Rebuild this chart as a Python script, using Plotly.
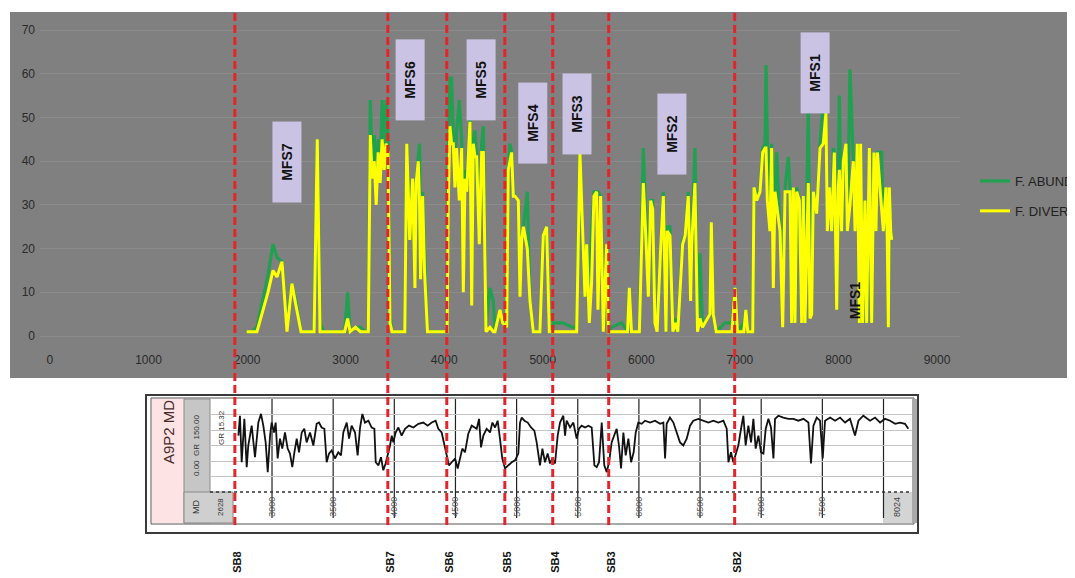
import plotly.graph_objects as go

# ---------------- data ----------------
depth = [1996, 2050, 2100, 2212, 2263, 2303, 2354, 2405, 2455, 2496, 2547, 2600, 2680, 2712, 2740, 2780,
         2900, 2990, 3020, 3045, 3100, 3150, 3200, 3230, 3250, 3270, 3290, 3310, 3330, 3350, 3370, 3390,
         3410, 3430, 3450, 3470, 3600, 3620, 3650, 3680, 3703, 3715, 3737, 3750, 3760, 3781, 3800, 3830,
         3900, 4000, 4030, 4041, 4058, 4075, 4092, 4109, 4126, 4153, 4177, 4194, 4211, 4228, 4261, 4279,
         4295, 4312, 4329, 4356, 4380, 4397, 4424, 4464, 4498, 4515, 4566, 4593, 4634, 4650, 4667, 4684,
         4701, 4718, 4752, 4769, 4786, 4803, 4843, 4870, 4904, 4971, 5005, 5039, 5066, 5100, 5110, 5200,
         5300, 5344, 5377, 5404, 5428, 5445, 5472, 5495, 5519, 5546, 5560, 5587, 5614, 5648, 5665, 5700,
         5800, 5860, 5878, 5900, 5980, 6020, 6047, 6071, 6095, 6115, 6138, 6160, 6196, 6223, 6250, 6263,
         6291, 6320, 6345, 6370, 6419, 6445, 6476, 6500, 6511, 6544, 6570, 6595, 6620, 6696, 6710, 6730,
         6760, 6850, 6920, 6950, 6975, 7040, 7060, 7080, 7130, 7143, 7170, 7204, 7231, 7255, 7265, 7278,
         7305, 7322, 7339, 7356, 7373, 7407, 7434, 7458, 7491, 7508, 7525, 7542, 7559, 7576, 7603, 7627,
         7644, 7660, 7694, 7711, 7728, 7745, 7779, 7813, 7846, 7873, 7887, 7907, 7931, 7948, 7958, 7982,
         7999, 8009, 8032, 8049, 8076, 8090, 8117, 8151, 8168, 8191, 8212, 8225, 8245, 8269, 8286, 8313,
         8337, 8360, 8381, 8394, 8438, 8455, 8482, 8495, 8506, 8516, 8530, 8540]
f_abundance = [1, 1, 2, 14, 21, 18, 17, 2, 12, 8, 1, 1, 1, 45, 3, 1,
               1, 1, 10, 1, 2, 2, 1, 1, 54, 40, 46, 32, 45, 38, 54, 42,
               54, 45, 5, 1, 1, 44, 23, 36, 12, 35, 41, 44, 14, 33, 20, 1,
               1, 1, 1, 40, 59, 59, 45, 40, 47, 54, 45, 20, 38, 35, 50, 10,
               45, 47, 42, 22, 44, 48, 2, 11, 8, 1, 6, 3, 2, 38, 44, 42,
               33, 32, 31, 10, 22, 25, 33, 8, 1, 1, 23, 25, 1, 1, 3, 3,
               2, 2, 42, 23, 9, 21, 3, 24, 33, 33, 33, 32, 1, 21, 1, 2,
               3, 1, 11, 1, 1, 43, 25, 10, 31, 31, 5, 2, 20, 33, 1, 25,
               25, 1, 4, 1, 22, 23, 33, 10, 21, 43, 1, 19, 2, 5, 26, 5,
               1, 3, 3, 11, 1, 3, 6, 1, 1, 34, 31, 34, 43, 44, 62, 44,
               30, 44, 30, 33, 42, 24, 10, 34, 41, 34, 3, 34, 3, 34, 31, 3,
               32, 3, 54, 10, 6, 33, 28, 44, 54, 51, 25, 34, 24, 43, 42, 6,
               34, 55, 24, 40, 44, 24, 61, 40, 24, 44, 3, 44, 3, 31, 3, 43,
               3, 42, 24, 42, 42, 24, 34, 22, 2, 34, 24, 22]
f_diversity = [1, 1, 1, 10, 15, 13.5, 17, 1, 12, 7, 1, 1, 1, 45, 1, 1,
               1, 1, 4, 1, 2, 1, 1, 1, 46, 36, 40, 30, 42, 35, 45, 38,
               44, 42, 3, 1, 1, 44, 22, 36, 11, 35, 40, 30, 13, 32, 15, 1,
               1, 1, 1, 30, 48, 44, 44, 34, 43, 31, 43, 10, 36, 33, 49, 7,
               44, 41, 41, 21, 42, 42, 1, 2, 1, 1, 6, 3, 2, 38, 40, 42,
               32, 32, 31, 9, 22, 25, 20, 8, 1, 1, 23, 25, 1, 1, 1, 1,
               1, 1, 42, 23, 9, 21, 3, 12, 32, 33, 6, 32, 1, 21, 1, 1,
               1, 1, 11, 1, 1, 35, 22, 9, 31, 29, 3, 1, 20, 32, 1, 24,
               23, 1, 3, 1, 21, 23, 32, 8, 21, 35, 1, 4, 2, 5, 26, 5,
               1, 1, 1, 11, 1, 1, 6, 1, 1, 34, 31, 33, 42, 43, 43, 31,
               24, 43, 11, 33, 30, 24, 2, 33, 33, 33, 3, 34, 3, 33, 31, 3,
               32, 3, 35, 4, 5, 33, 28, 43, 44, 51, 24, 34, 24, 35, 42, 6,
               34, 38, 24, 40, 44, 24, 30, 40, 24, 44, 3, 44, 3, 31, 3, 43,
               3, 42, 24, 42, 30, 24, 34, 22, 2, 34, 24, 22]

x_ticks = [0, 1000, 2000, 3000, 4000, 5000, 6000, 7000, 8000, 9000]
y_ticks = [0, 10, 20, 30, 40, 50, 60, 70]

sb_names = ["SB8", "SB7", "SB6", "SB5", "SB4", "SB3", "SB2"]
sb_depths = [1876, 3428, 4026, 4615, 5101, 5669, 6947]

mfs_names = ["MFS7", "MFS6", "MFS5", "MFS4", "MFS3", "MFS2", "MFS1"]
mfs_depths = [2405, 3653, 4373, 4900, 5347, 6311, 7762]
mfs_values = [39.8, 58.6, 58.6, 48.7, 50.8, 46.2, 60.2]
mfs1_low_depth = 8168
mfs1_low_value = 8.2

# GR well log (A9P2)
gr_depth = [2725, 2738, 2752, 2774, 2793, 2806, 2834, 2861, 2888, 2910, 2929, 2948, 2965, 2984, 2997, 3016,
            3030, 3046, 3065, 3084, 3106, 3128, 3147, 3166, 3183, 3202, 3221, 3243, 3264, 3283, 3311, 3338,
            3365, 3384, 3406, 3428, 3447, 3466, 3488, 3515, 3542, 3564, 3583, 3611, 3630, 3651, 3679, 3700,
            3720, 3739, 3760, 3788, 3815, 3837, 3848, 3870, 3891, 3910, 3929, 3946, 3965, 3979, 3992, 4011,
            4033, 4060, 4088, 4120, 4156, 4197, 4237, 4273, 4306, 4338, 4360, 4387, 4409, 4428, 4447, 4469,
            4497, 4518, 4537, 4556, 4578, 4605, 4633, 4654, 4674, 4693, 4709, 4728, 4755, 4783, 4802, 4824,
            4845, 4864, 4883, 4905, 4933, 4960, 4987, 5014, 5028, 5042, 5064, 5091, 5118, 5145, 5164, 5191,
            5211, 5232, 5254, 5273, 5292, 5314, 5336, 5355, 5382, 5396, 5409, 5437, 5464, 5491, 5510, 5532,
            5559, 5587, 5614, 5636, 5655, 5674, 5696, 5717, 5737, 5756, 5777, 5799, 5818, 5837, 5854, 5873,
            5892, 5914, 5936, 5957, 5974, 5995, 6023, 6050, 6091, 6132, 6173, 6200, 6214, 6227, 6254, 6282,
            6309, 6336, 6363, 6391, 6418, 6445, 6486, 6527, 6568, 6609, 6650, 6691, 6718, 6732, 6753, 6772,
            6791, 6813, 6835, 6854, 6873, 6895, 6917, 6936, 6955, 6977, 6999, 7018, 7037, 7059, 7080, 7100,
            7113, 7140, 7181, 7222, 7263, 7304, 7345, 7386, 7407, 7427, 7454, 7481, 7503, 7522, 7563, 7604,
            7645, 7686, 7726, 7767, 7795, 7835, 7890, 7931, 7972, 8013, 8054, 8095, 8135, 8176, 8203]
gr_value = [91, 123, 48, 118, 40, 75, 107, 56, 112, 126, 107, 80, 32, 91, 112, 96,
            112, 54, 86, 70, 96, 70, 62, 40, 64, 86, 64, 96, 102, 80, 96, 75,
            110, 112, 104, 102, 48, 62, 67, 54, 64, 59, 96, 112, 86, 107, 96, 59,
            104, 126, 112, 115, 104, 102, 48, 43, 56, 35, 46, 59, 75, 91, 80, 96,
            104, 91, 102, 107, 104, 110, 112, 107, 112, 115, 102, 96, 75, 56, 43, 48,
            54, 38, 54, 70, 64, 94, 107, 104, 102, 118, 72, 91, 102, 96, 112, 104,
            115, 86, 54, 38, 43, 48, 51, 62, 112, 120, 115, 112, 104, 99, 80, 43,
            70, 48, 62, 46, 54, 46, 91, 112, 123, 91, 115, 104, 112, 86, 102, 107,
            104, 107, 104, 43, 40, 48, 112, 43, 32, 48, 80, 91, 102, 75, 38, 96,
            59, 86, 48, 64, 96, 112, 110, 115, 112, 115, 110, 112, 54, 110, 120, 112,
            96, 80, 75, 86, 107, 115, 118, 115, 112, 115, 112, 115, 102, 48, 64, 48,
            59, 75, 102, 123, 75, 107, 80, 118, 70, 91, 64, 62, 102, 118, 104, 54,
            118, 123, 120, 118, 118, 115, 118, 112, 46, 107, 120, 115, 54, 115, 120, 115,
            120, 112, 118, 91, 115, 123, 115, 120, 112, 118, 115, 110, 112, 110, 102]

log_depth_ticks = [3000, 3500, 4000, 4500, 5000, 5500, 6000, 6500, 7000, 7500]
log_grid_depths = [3000, 3500, 4000, 4500, 5000, 5500, 6000, 6500, 7000, 7500, 8000]
log_end_label = "8024"
log_start_label = "2628"

# ---------------- helpers (layout only) ----------------
# the page body adds an 8px margin, so the figure is sized to fit the window
OFF = 8
W, H = 1075 - OFF, 578 - OFF


def px(x):
    return (x - OFF) / W


def py(y):
    return 1 - (y - OFF) / H


FONT = "Liberation Sans"
GREEN = "#20a050"
YELLOW = "#ffff00"
RED = "#e3242b"

fig = go.Figure()
fig.add_trace(go.Scatter(x=depth, y=f_abundance, mode="lines", name="F. ABUNDANCE",
                         line=dict(color=GREEN, width=3.2), legendgroup="a",
                         xaxis="x", yaxis="y"))
fig.add_trace(go.Scatter(x=depth, y=f_diversity, mode="lines", name="F. DIVERSITY",
                         line=dict(color=YELLOW, width=3), legendgroup="b",
                         xaxis="x", yaxis="y"))
fig.add_trace(go.Scatter(x=gr_depth, y=gr_value, mode="lines", showlegend=False,
                         line=dict(color="#111111", width=1.8), xaxis="x2", yaxis="y2"))

shapes = []
# chart gray background
shapes.append(dict(type="rect", xref="paper", yref="paper", x0=px(10), x1=px(1075), y0=py(378), y1=py(12),
                   fillcolor="#808080", line=dict(width=0), layer="below"))
# well-log panel
shapes.append(dict(type="rect", xref="paper", yref="paper", x0=px(146), x1=px(918), y0=py(533), y1=py(395),
                   fillcolor="white", line=dict(color="#3a3a3a", width=2), layer="below"))
shapes.append(dict(type="rect", xref="paper", yref="paper", x0=px(151), x1=px(914), y0=py(524), y1=py(398),
                   fillcolor="rgba(0,0,0,0)", line=dict(color="#555555", width=1), layer="below"))
shapes.append(dict(type="rect", xref="paper", yref="paper", x0=px(152), x1=px(184), y0=py(523), y1=py(399),
                   fillcolor="#fde3e3", line=dict(width=0), layer="below"))
shapes.append(dict(type="rect", xref="paper", yref="paper", x0=px(184), x1=px(210), y0=py(523), y1=py(399),
                   fillcolor="#c6c6c6", line=dict(color="#8a8a8a", width=1), layer="below"))
shapes.append(dict(type="rect", xref="paper", yref="paper", x0=px(184), x1=px(233), y0=py(523), y1=py(492),
                   fillcolor="#cfcfcf", line=dict(color="#8a8a8a", width=1), layer="below"))
shapes.append(dict(type="rect", xref="paper", yref="paper", x0=px(883), x1=px(912), y0=py(523), y1=py(492),
                   fillcolor="#d4d4d4", line=dict(width=0), layer="below"))
shapes.append(dict(type="rect", xref="paper", yref="paper", x0=px(912), x1=px(917), y0=py(523), y1=py(399),
                   fillcolor="#a9a9a9", line=dict(width=0), layer="below"))
for d in log_grid_depths:
    shapes.append(dict(type="line", xref="x2", yref="paper", x0=d, x1=d, y0=py(518), y1=py(399),
                       line=dict(color="#222222", width=1.2), layer="below"))
shapes.append(dict(type="line", xref="paper", yref="paper", x0=px(210), x1=px(912), y0=py(492), y1=py(492),
                   line=dict(color="#333333", width=1.5, dash="dot"), layer="above"))
# sequence boundaries
for d in sb_depths:
    shapes.append(dict(type="line", xref="x", yref="paper", x0=d, x1=d, y0=py(525), y1=py(12),
                       line=dict(color=RED, width=3, dash="8px,4px"), layer="above"))

annotations = []
for name, d, v in zip(mfs_names, mfs_depths, mfs_values):
    annotations.append(dict(x=d, y=v, xref="x", yref="y", text="<b>%s</b>" % name, showarrow=False,
                            textangle=-90, bgcolor="#cbc3e3", width=78, height=26, borderpad=1,
                            xanchor="center", yanchor="middle",
                            font=dict(family=FONT, size=14, color="#111111")))
annotations.append(dict(x=mfs1_low_depth, y=mfs1_low_value, xref="x", yref="y", text="<b>MFS1</b>",
                        showarrow=False, textangle=-90, xanchor="center", yanchor="middle",
                        font=dict(family=FONT, size=14, color="#111111")))
for name, d in zip(sb_names, sb_depths):
    annotations.append(dict(x=d, y=py(562), xref="x", yref="paper", text="<b>%s</b>" % name,
                            showarrow=False, textangle=-90, xshift=2, xanchor="center", yanchor="middle",
                            font=dict(family=FONT, size=11, color="#111111")))


def paper_text(x, y, text, size, color="#333333"):
    annotations.append(dict(x=px(x), y=py(y), xref="paper", yref="paper", text=text, showarrow=False,
                            textangle=-90, xanchor="center", yanchor="middle",
                            font=dict(family=FONT, size=size, color=color)))


paper_text(168, 432, "A9P2 MD", 15, "#4a2a2a")
paper_text(197, 446, "0.00  GR  150.00", 8)
paper_text(221, 428, "GR 15.32", 8)
paper_text(196, 507, "MD", 9)
paper_text(221, 507, log_start_label, 8)
paper_text(897, 507, log_end_label, 9, "#444444")

fig.update_layout(
    width=W, height=H,
    margin=dict(l=0, r=0, t=0, b=0, autoexpand=False),
    paper_bgcolor="white", plot_bgcolor="rgba(0,0,0,0)",
    font=dict(family=FONT, size=12, color="#2a2a2a"),
    showlegend=True,
    legend=dict(x=px(975), y=py(166), xanchor="left", yanchor="top", bgcolor="rgba(0,0,0,0)",
                font=dict(family=FONT, size=13, color="#222222"), tracegroupgap=10,
                traceorder="grouped"),
    xaxis=dict(domain=[px(40), px(960)], range=[-101, 9233], tickvals=x_ticks,
               showgrid=False, zeroline=False, showline=False, ticks="", ticklabelstandoff=6,
               tickfont=dict(size=12, color="#2a2a2a"), anchor="y"),
    yaxis=dict(domain=[py(345), py(20)], range=[-2.06, 72.3], tickvals=y_ticks,
               showgrid=True, gridcolor="#8b8b8b", gridwidth=1, zeroline=False, showline=False,
               ticks="", ticklabelstandoff=4, tickfont=dict(size=12, color="#2a2a2a"), anchor="x"),
    xaxis2=dict(domain=[px(210), px(912)], range=[2493, 8233], tickvals=log_depth_ticks,
                tickangle=-90, tickfont=dict(size=9, color="#555555"), showgrid=False,
                zeroline=False, showline=False, ticks="", anchor="y2", ticklabelstandoff=2),
    yaxis2=dict(domain=[py(492), py(399)], range=[0, 150], tickvals=[25, 50, 75, 100, 125],
                showticklabels=False, showgrid=True, gridcolor="#c4c4c4", zeroline=False,
                showline=False, ticks="", anchor="x2"),
    shapes=shapes,
    annotations=annotations,
)

fig.write_html("out.html")
